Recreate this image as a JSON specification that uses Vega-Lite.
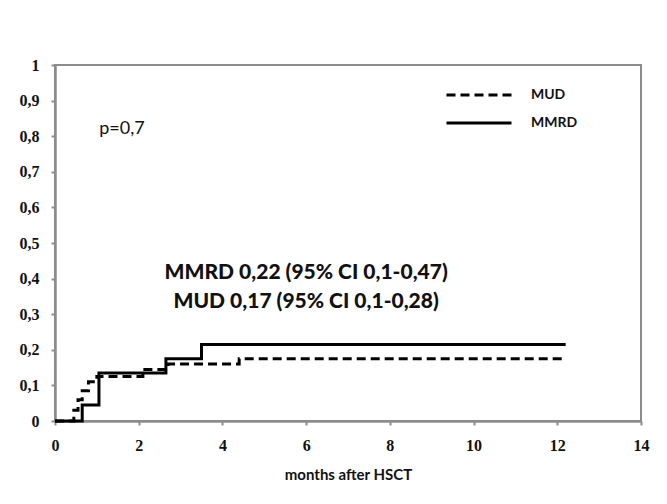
{
  "$schema": "https://vega.github.io/schema/vega-lite/v6.json",
  "width": 586,
  "height": 356,
  "autosize": {"type": "none"},
  "padding": {"left": 55, "top": 65, "right": 26, "bottom": 83},
  "background": "white",
  "config": {
    "view": {"stroke": "#8c8c8c", "strokeWidth": 2},
    "axis": {
      "domainColor": "#8c8c8c", "domainWidth": 2.5, "tickColor": "#8c8c8c", "tickWidth": 2, "tickSize": 4,
      "grid": false, "labelFont": "Liberation Serif", "labelFontWeight": "bold", "labelFontSize": 16, "labelColor": "#111",
      "labelOverlap": false, "labelFlush": false,
      "titleFont": "Lato", "titleFontWeight": "bold", "titleFontSize": 15, "titleColor": "#111"
    }
  },
  "layer": [
    {
      "data": {"values": [
        {"group": "MUD", "t": 0, "ci": 0},
        {"group": "MUD", "t": 0.45, "ci": 0.03},
        {"group": "MUD", "t": 0.55, "ci": 0.06},
        {"group": "MUD", "t": 0.65, "ci": 0.085},
        {"group": "MUD", "t": 0.8, "ci": 0.11},
        {"group": "MUD", "t": 1.0, "ci": 0.125},
        {"group": "MUD", "t": 2.1, "ci": 0.145},
        {"group": "MUD", "t": 2.7, "ci": 0.16},
        {"group": "MUD", "t": 4.4, "ci": 0.175},
        {"group": "MUD", "t": 12.2, "ci": 0.175},
        {"group": "MMRD", "t": 0, "ci": 0},
        {"group": "MMRD", "t": 0.65, "ci": 0.045},
        {"group": "MMRD", "t": 1.05, "ci": 0.135},
        {"group": "MMRD", "t": 2.65, "ci": 0.175},
        {"group": "MMRD", "t": 3.5, "ci": 0.215},
        {"group": "MMRD", "t": 12.2, "ci": 0.215}
      ]},
      "mark": {"type": "line", "interpolate": "step-after", "color": "black", "strokeWidth": 3},
      "encoding": {
        "x": {"field": "t", "type": "quantitative", "scale": {"domain": [0, 14], "nice": false},
              "axis": {"values": [0,2,4,6,8,10,12,14], "title": "months after HSCT", "labelPadding": 12, "titlePadding": 14}},
        "y": {"field": "ci", "type": "quantitative", "scale": {"domain": [0, 1], "nice": false},
              "axis": {"values": [0,0.1,0.2,0.3,0.4,0.5,0.6,0.7,0.8,0.9,1], "title": null, "labelPadding": 12,
                       "labelOverlap": false, "tickCount": 11,
                       "labelExpr": "replace(format(datum.value, '.1~f'), '.', ',')"}},
        "strokeDash": {"field": "group", "type": "nominal",
          "scale": {"domain": ["MUD", "MMRD"], "range": [[9, 5], [1, 0]]},
          "legend": {"title": null, "orient": "none", "legendX": 390, "legendY": 22,
                     "symbolType": "stroke", "symbolSize": 4225, "symbolStrokeWidth": 3, "symbolStrokeColor": "black",
                     "clipHeight": 16,
                     "labelFont": "Lato", "labelFontWeight": "bold", "labelFontSize": 14, "labelColor": "#111",
                     "labelOffset": 18, "rowPadding": 12}},
        "detail": {"field": "group"}
      }
    },
    {
      "data": {"values": [
        {"label": "p=0,7", "x": 1.6, "y": 0.82}
      ]},
      "mark": {"type": "text", "font": "Lato", "fontSize": 18, "color": "#111", "align": "center", "baseline": "middle"},
      "encoding": {
        "x": {"field": "x", "type": "quantitative"},
        "y": {"field": "y", "type": "quantitative"},
        "text": {"field": "label"}
      }
    },
    {
      "data": {"values": [
        {"label": "MMRD 0,22 (95% CI 0,1-0,47)", "x": 6, "y": 0.415},
        {"label": "MUD 0,17 (95% CI 0,1-0,28)", "x": 6, "y": 0.335}
      ]},
      "mark": {"type": "text", "font": "Lato", "fontSize": 21, "fontWeight": 900, "color": "#111", "align": "center", "baseline": "middle"},
      "encoding": {
        "x": {"field": "x", "type": "quantitative"},
        "y": {"field": "y", "type": "quantitative"},
        "text": {"field": "label"}
      }
    }
  ]
}
